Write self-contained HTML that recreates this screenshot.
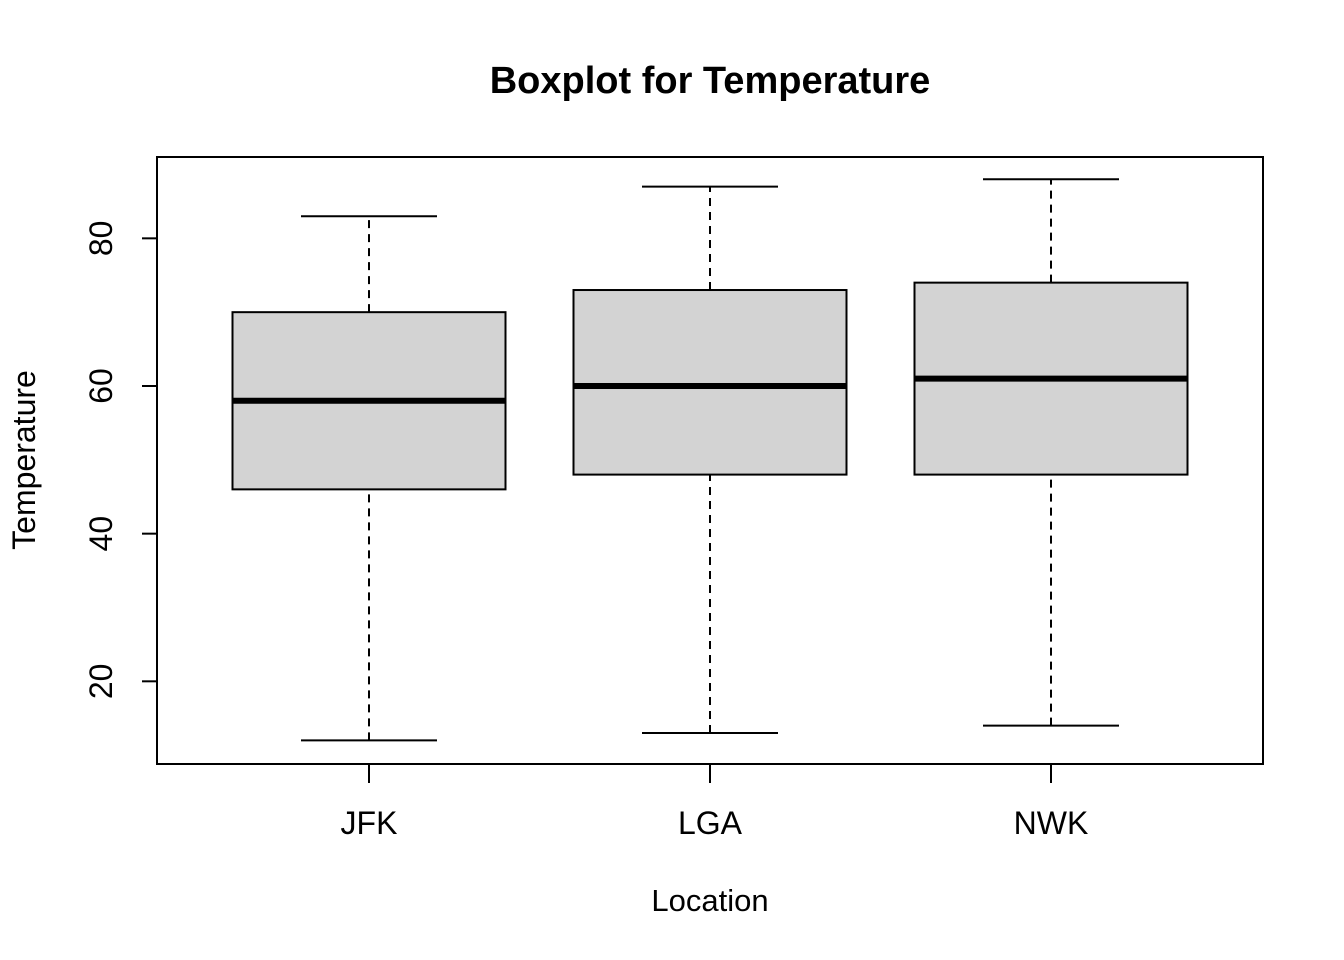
<!DOCTYPE html>
<html><head><meta charset="utf-8"><style>
html,body{margin:0;padding:0;background:#fff;}
svg{display:block;font-family:"Liberation Sans",Arial,sans-serif;}
</style></head><body>
<svg id="chart" width="1344" height="960" viewBox="0 0 1344 960">
<text x="710" y="93" text-anchor="middle" font-size="38" font-weight="bold">Boxplot for Temperature</text>
<rect x="157" y="157" width="1106" height="607" fill="none" stroke="#000" stroke-width="2"/>
<text x="710" y="911" text-anchor="middle" font-size="31">Location</text>
<text transform="translate(35,460) rotate(-90)" text-anchor="middle" font-size="32">Temperature</text>
<g id="marks"></g>
</svg>
<script>
const categories = ["JFK","LGA","NWK"];
const mins = [12,13,14];
const q1s = [46,48,48];
const medians = [58,60,61];
const q3s = [70,73,74];
const maxs = [83,87,88];
const yTicks = [20,40,60,80];

const NS = "http://www.w3.org/2000/svg";
const g = document.getElementById("marks");
function y(v){ return 386 - (v-60)*7.383; }
function x(i){ return 369 + i*341; }
function el(tag, attrs, parent){
  const e = document.createElementNS(NS, tag);
  for (const k in attrs) e.setAttribute(k, attrs[k]);
  (parent||g).appendChild(e);
  return e;
}
yTicks.forEach(t=>{
  const l = el("line",{x1:142,x2:157,y1:y(t),y2:y(t),stroke:"#000","stroke-width":2});
  
  
  const tx = el("text",{transform:`translate(112,${y(t)}) rotate(-90)`,"text-anchor":"middle","font-size":32});
  
  
  tx.textContent = t;
});
categories.forEach((c,i)=>{
  const cx = x(i), hw = 136.5, cw = 68;
  const tk = el("line",{x1:cx,x2:cx,y1:764,y2:783,stroke:"#000","stroke-width":2});
  
  
  const lb = el("text",{x:cx,y:834,"text-anchor":"middle","font-size":32});
  
  
  lb.textContent = c;
  const wl = el("line",{x1:cx,x2:cx,y1:y(mins[i]),y2:y(q1s[i]),stroke:"#000","stroke-width":2,"stroke-dasharray":"8,6"});
  
  
  const wu = el("line",{x1:cx,x2:cx,y1:y(q3s[i]),y2:y(maxs[i]),stroke:"#000","stroke-width":2,"stroke-dasharray":"8,6"});
  
  
  const cl = el("line",{x1:cx-cw,x2:cx+cw,y1:y(mins[i]),y2:y(mins[i]),stroke:"#000","stroke-width":2});
  
  
  const cu = el("line",{x1:cx-cw,x2:cx+cw,y1:y(maxs[i]),y2:y(maxs[i]),stroke:"#000","stroke-width":2});
  
  
  const bx = el("rect",{x:cx-hw,y:y(q3s[i]),width:hw*2,height:y(q1s[i])-y(q3s[i]),fill:"#d3d3d3",stroke:"#000","stroke-width":2});
  
  
  const md = el("line",{x1:cx-hw,x2:cx+hw,y1:y(medians[i]),y2:y(medians[i]),stroke:"#000","stroke-width":6});
  
  
});
</script>
</body></html>
